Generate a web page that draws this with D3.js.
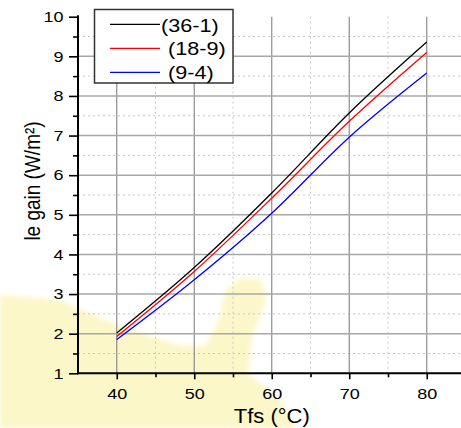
<!DOCTYPE html>
<html>
<head>
<meta charset="utf-8">
<script src="https://cdn.jsdelivr.net/npm/d3@7"></script>
<style>
  html, body { margin: 0; padding: 0; background: #fff; }
  svg { display: block; font-family: "Liberation Sans", Arial, sans-serif; }
</style>
</head>
<body>
<svg id="chart" width="461" height="428"></svg>
<script>
// Temperature of the fluid (°C) and gain (W/m²) for three configurations
const tfs = [40, 50, 60, 70, 80];
const gain361 = [2.02, 3.67, 5.55, 7.57, 9.36];
const gain189 = [1.93, 3.57, 5.42, 7.36, 9.10];
const gain94 = [1.85, 3.36, 5.04, 6.96, 8.58];
const seriesNames = ["(36-1)", "(18-9)", "(9-4)"];
const seriesColors = ["#000000", "#ff0000", "#0000ff"];
const xMajorTicks = [40, 50, 60, 70, 80];
const xMinorTicks = [45, 55, 65, 75];
const yMajorTicks = [1, 2, 3, 4, 5, 6, 7, 8, 9, 10];
const yMinorTicks = [1.5, 2.5, 3.5, 4.5, 5.5, 6.5, 7.5, 8.5, 9.5];

const W = 461, H = 428;
const plotLeft = 78, plotTop = 16.7, plotBottom = 373.3;

const svg = d3.select("#chart");

const x = d3.scaleLinear().domain([35, 85]).range([plotLeft, plotLeft + 50 * 7.75]);
const y = d3.scaleLinear().domain([1, 10]).range([plotBottom, plotTop]);

// pale yellow backdrop blob in the lower-left
const defs = svg.append("defs");
defs.append("filter").attr("id", "soft")
  .append("feGaussianBlur").attr("stdDeviation", 2.5);
const blob = [[0,295],[60,300],[78,308],[110,322],[150,336],[178,345],[205,346],[218,322],
  [226,290],[240,278],[262,280],[266,300],[252,338],[248,373],[280,400],[296,428],[0,428]];
svg.append("path")
  .attr("d", d3.line()(blob) + "Z")
  .attr("fill", "#fcf7c9")
  .attr("filter", "url(#soft)");

const grid = svg.append("g");
// minor dotted grid
grid.selectAll("line.xmin").data(xMinorTicks).join("line")
  .attr("x1", d => x(d)).attr("x2", d => x(d)).attr("y1", plotTop).attr("y2", plotBottom)
  .attr("stroke", "#c8c8c8").attr("stroke-width", 1).attr("stroke-dasharray", "2,3");
grid.selectAll("line.ymin").data(yMinorTicks).join("line")
  .attr("x1", plotLeft).attr("x2", W).attr("y1", d => y(d)).attr("y2", d => y(d))
  .attr("stroke", "#c8c8c8").attr("stroke-width", 1).attr("stroke-dasharray", "2,3");
// major solid grid
grid.selectAll("line.xmaj").data(xMajorTicks).join("line")
  .attr("x1", d => x(d)).attr("x2", d => x(d)).attr("y1", plotTop).attr("y2", plotBottom)
  .attr("stroke", "#8c8c8c").attr("stroke-width", 1.2);
grid.selectAll("line.ymaj").data(yMajorTicks.filter(v => v > 1 && v < 10)).join("line")
  .attr("x1", plotLeft).attr("x2", W).attr("y1", d => y(d)).attr("y2", d => y(d))
  .attr("stroke", "#a8a8a8").attr("stroke-width", 1.6);

// curves
const data = [gain361, gain189, gain94];
const line = d3.line().x((d, i) => x(tfs[i])).y(d => y(d)).curve(d3.curveMonotoneX);
svg.append("g").selectAll("path").data(data).join("path")
  .attr("d", d => line(d))
  .attr("fill", "none")
  .attr("stroke", (d, i) => seriesColors[i])
  .attr("stroke-width", 1.3);

// axes
const stretchText = (sel, sx) => sel.each(function () {
  const t = d3.select(this);
  const tx = +t.attr("x") || 0, ty = +t.attr("y") || 0;
  t.attr("x", 0).attr("y", 0).attr("transform", `translate(${tx},${ty}) scale(${sx},1)`);
});

const yAxis = svg.append("g").attr("transform", `translate(${plotLeft},0)`)
  .call(d3.axisLeft(y).tickValues(yMajorTicks).tickFormat(d3.format("d")).tickSize(9).tickPadding(5.5).tickSizeOuter(0));
const yMinor = svg.append("g").attr("transform", `translate(${plotLeft},0)`)
  .call(d3.axisLeft(y).tickValues(yMinorTicks).tickFormat("").tickSize(5).tickSizeOuter(0));
const xAxis = svg.append("g").attr("transform", `translate(0,${plotBottom})`)
  .call(d3.axisBottom(x).tickValues(xMajorTicks).tickFormat(d3.format("d")).tickSize(6).tickPadding(9.5).tickSizeOuter(0));
const xMinor = svg.append("g").attr("transform", `translate(0,${plotBottom})`)
  .call(d3.axisBottom(x).tickValues(xMinorTicks).tickFormat("").tickSize(4).tickSizeOuter(0));

[yAxis, yMinor, xAxis, xMinor].forEach(a => {
  a.select(".domain").remove();
  a.selectAll(".tick line").attr("stroke", "#000").attr("stroke-width", 1.6);
  a.selectAll("text").attr("font-size", 15).attr("fill", "#000").attr("font-family", "Liberation Sans, Arial, sans-serif");
});
stretchText(yAxis.selectAll("text"), 1.2);
stretchText(xAxis.selectAll("text"), 1.2);

// axis lines
svg.append("line").attr("x1", plotLeft).attr("x2", plotLeft).attr("y1", plotTop - 1.5).attr("y2", plotBottom + 1)
  .attr("stroke", "#000").attr("stroke-width", 2);
svg.append("line").attr("x1", plotLeft - 1).attr("x2", W).attr("y1", plotBottom).attr("y2", plotBottom)
  .attr("stroke", "#000").attr("stroke-width", 2);

// axis titles
svg.append("text")
  .attr("transform", `translate(${x(60)},423) scale(1.1,1)`)
  .attr("text-anchor", "middle").attr("font-size", 20).text("Tfs (°C)");
svg.append("text")
  .attr("transform", `translate(40,181) rotate(-90) scale(1,1.2)`)
  .attr("text-anchor", "middle").attr("font-size", 19).text("le gain (W/m²)");

// legend
const lg = svg.append("g");
lg.append("rect").attr("x", 94.5).attr("y", 9.5).attr("width", 138.5).attr("height", 73.5)
  .attr("fill", "#fff").attr("stroke", "#333").attr("stroke-width", 1.5);
const legY = [24.3, 48.3, 72.3];
const legTextX = [161, 168, 168];
const legBase = [31.7, 55.2, 79];
seriesNames.forEach((name, i) => {
  lg.append("line").attr("x1", 110).attr("x2", 160).attr("y1", legY[i]).attr("y2", legY[i])
    .attr("stroke", seriesColors[i]).attr("stroke-width", 1.2);
  lg.append("text").attr("transform", `translate(${legTextX[i]},${legBase[i]}) scale(1.2,1)`)
    .attr("font-size", 18).text(name);
});
</script>
</body>
</html>
